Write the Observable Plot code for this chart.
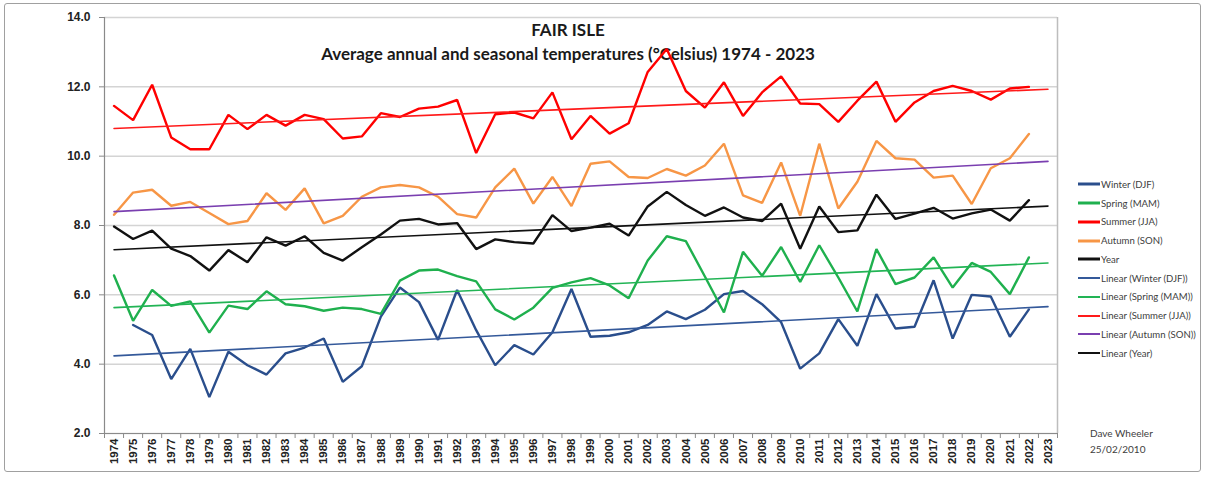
<!DOCTYPE html>
<html>
<head>
<meta charset="utf-8">
<script src="https://cdn.jsdelivr.net/npm/d3@7"></script>
<script src="https://cdn.jsdelivr.net/npm/@observablehq/plot@0.6"></script>
<style>
  body { margin: 0; background: #fff; }
  #wrap { position: relative; width: 1207px; height: 477px; overflow: hidden; }
  #border { position: absolute; left: 4px; top: 3px; width: 1197px; height: 469px; border: 1.5px solid #a0a0a0; border-radius: 3px; box-sizing: border-box; }
  #chart { position: absolute; left: 0; top: 0; }
  #legend { position: absolute; left: 1078px; top: 175px; font-family: Lato, "Open Sans", sans-serif; font-size: 9.6px; color: #404040; }
  .row { height: 18.75px; display: flex; align-items: center; white-space: nowrap; }
  .row svg { width: 22px; height: 6px; margin-right: 1px; }
  #credit { position: absolute; left: 1090px; top: 425px; font-family: Lato, "Open Sans", sans-serif; font-size: 10px; line-height: 16px; color: #404040; }
</style>
</head>
<body>
<div id="wrap">
  <div id="border"></div>
  <div id="chart"></div>
  <div id="legend"></div>
  <div id="credit">Dave Wheeler<br>25/02/2010</div>
</div>
<script>
// ---- data ----
const years = d3.range(1974, 2023); // 1974..2022 data points
const axisYears = d3.range(1974, 2024); // category labels 1974..2023
const winter = [null, 5.13, 4.84, 3.57, 4.44, 3.05, 4.36, 3.97, 3.70, 4.31, 4.48, 4.74, 3.49, 3.94, 5.37, 6.21, 5.79, 4.70, 6.14, 4.98, 3.97, 4.55, 4.28, 4.92, 6.17, 4.79, 4.82, 4.92, 5.13, 5.52, 5.30, 5.57, 6.02, 6.11, 5.73, 5.21, 3.87, 4.31, 5.30, 4.53, 6.02, 5.03, 5.08, 6.42, 4.74, 6.00, 5.95, 4.79, 5.58];
const spring = [6.56, 5.25, 6.14, 5.68, 5.81, 4.91, 5.69, 5.59, 6.10, 5.73, 5.67, 5.54, 5.63, 5.59, 5.45, 6.41, 6.70, 6.73, 6.54, 6.39, 5.58, 5.29, 5.63, 6.20, 6.36, 6.48, 6.27, 5.90, 6.99, 7.69, 7.55, 6.53, 5.49, 7.24, 6.55, 7.38, 6.37, 7.43, 6.50, 5.52, 7.32, 6.31, 6.50, 7.08, 6.21, 6.92, 6.66, 6.02, 7.08];
const summer = [11.45, 11.04, 12.06, 10.54, 10.20, 10.20, 11.19, 10.78, 11.19, 10.88, 11.19, 11.07, 10.51, 10.57, 11.24, 11.13, 11.37, 11.43, 11.62, 10.09, 11.21, 11.26, 11.09, 11.84, 10.49, 11.16, 10.65, 10.95, 12.43, 13.09, 11.88, 11.40, 12.13, 11.16, 11.84, 12.30, 11.52, 11.50, 10.99, 11.60, 12.15, 10.99, 11.55, 11.88, 12.03, 11.88, 11.63, 11.95, 12.00];
const autumn = [8.31, 8.95, 9.03, 8.57, 8.68, 8.36, 8.04, 8.13, 8.93, 8.45, 9.07, 8.06, 8.28, 8.83, 9.10, 9.17, 9.10, 8.83, 8.33, 8.23, 9.10, 9.64, 8.63, 9.40, 8.56, 9.78, 9.85, 9.40, 9.37, 9.63, 9.44, 9.73, 10.36, 8.87, 8.65, 9.82, 8.28, 10.36, 8.49, 9.26, 10.44, 9.94, 9.90, 9.38, 9.44, 8.62, 9.65, 9.94, 10.64];
const annual = [7.97, 7.61, 7.85, 7.33, 7.12, 6.70, 7.29, 6.94, 7.66, 7.42, 7.69, 7.21, 6.99, 7.37, 7.74, 8.14, 8.19, 8.03, 8.07, 7.32, 7.60, 7.52, 7.48, 8.30, 7.84, 7.94, 8.05, 7.71, 8.55, 8.97, 8.59, 8.28, 8.52, 8.23, 8.13, 8.63, 7.33, 8.55, 7.81, 7.86, 8.89, 8.19, 8.34, 8.51, 8.20, 8.35, 8.46, 8.14, 8.73];

const seriesNames = ["Winter (DJF)", "Spring (MAM)", "Summer (JJA)", "Autumn (SON)", "Year"];
const seriesValues = [winter, spring, summer, autumn, annual];
const seriesColors = ["#2a4e8c", "#1fb04e", "#ff0000", "#f79646", "#111111"];

// linear trend lines: value at 1974 and at 2023
const trendNames = ["Linear (Winter (DJF))", "Linear (Spring (MAM))", "Linear (Summer (JJA))", "Linear (Autumn (SON))", "Linear (Year)"];
const trendYears = [1974, 2023];
const trendStart = [4.24, 5.63, 10.80, 8.40, 7.30];
const trendEnd = [5.66, 6.92, 11.93, 9.85, 8.56];
const trendColors = ["#34599a", "#22b455", "#ff1a1a", "#7a3fb0", "#111111"];

const yTicks = [2, 4, 6, 8, 10, 12, 14];

// ---- tidy tables ----
const rows = [];
seriesNames.forEach((s, k) => years.forEach((yr, i) => rows.push({series: s, year: yr, value: seriesValues[k][i]})));
const trendRows = [];
trendNames.forEach((s, k) => {
  trendRows.push({series: s, year: trendYears[0], value: trendStart[k]});
  trendRows.push({series: s, year: trendYears[1], value: trendEnd[k]});
});
const boundaries = axisYears.map(y => y - 0.5).concat([axisYears[axisYears.length - 1] + 0.5]);

const chart = Plot.plot({
  width: 1207,
  height: 477,
  marginLeft: 104,
  marginRight: 150,
  marginTop: 17,
  marginBottom: 44,
  style: {fontFamily: "'Liberation Sans', Arial, sans-serif", background: "transparent"},
  x: {type: "linear", domain: [1973.5, 2023.5], axis: null, label: null},
  y: {domain: [2, 14], axis: null, label: null},
  color: {domain: seriesNames.concat(trendNames), range: seriesColors.concat(trendColors)},
  marks: [
    Plot.gridY(yTicks, {stroke: "#d4d4d4", strokeOpacity: 1, strokeWidth: 1.5}),
    Plot.ruleX([2023.5], {stroke: "#bdbdbd", strokeWidth: 1.5}),
    Plot.text(["FAIR ISLE"], {frameAnchor: "top", lineAnchor: "middle", dx: -13, dy: 13, fontWeight: "bold", fontSize: 17, fontFamily: "Lato", fill: "#1a1a1a"}),
    Plot.text(["Average annual and seasonal temperatures (°Celsius) 1974 - 2023"], {frameAnchor: "top", lineAnchor: "middle", dx: -13, dy: 37, fontWeight: "bold", fontSize: 17, fontFamily: "Lato", fill: "#1a1a1a"}),
    Plot.line(rows, {x: "year", y: "value", z: "series", stroke: "series", strokeWidth: 2.4, strokeLinejoin: "miter", curve: "linear"}),
    Plot.line(trendRows, {x: "year", y: "value", z: "series", stroke: "series", strokeWidth: 1.6}),
    Plot.ruleX([1973.5], {stroke: "#8a8a8a", strokeWidth: 1.2}),
    Plot.ruleY([2], {stroke: "#8a8a8a", strokeWidth: 1.2}),
    Plot.axisY(yTicks, {label: null, tickFormat: d => d.toFixed(1), tickSize: 5, tickPadding: 9, fontWeight: "bold", fontSize: 12, stroke: "#8a8a8a", fill: "#222"}),
    Plot.axisX(boundaries, {label: null, tickSize: 5, tickFormat: () => "", stroke: "#8a8a8a"}),
    Plot.axisX(axisYears, {label: null, tickSize: 0, tickPadding: 5, tickRotate: -90, tickFormat: d => String(d), fontWeight: "bold", fontSize: 11.5, fill: "#222"})
  ]
});
document.getElementById("chart").appendChild(chart);

// ---- legend ----
const legend = document.getElementById("legend");
const legendItems = seriesNames.map((n, k) => ({name: n, color: seriesColors[k], w: 3}))
  .concat(trendNames.map((n, k) => ({name: n, color: trendColors[k], w: 2})));
legendItems.forEach(it => {
  const row = document.createElement("div");
  row.className = "row";
  row.innerHTML = `<svg viewBox="0 0 22 6"><line x1="0" y1="3" x2="22" y2="3" stroke="${it.color}" stroke-width="${it.w}"/></svg><span>${it.name}</span>`;
  legend.appendChild(row);
});
</script>
</body>
</html>
